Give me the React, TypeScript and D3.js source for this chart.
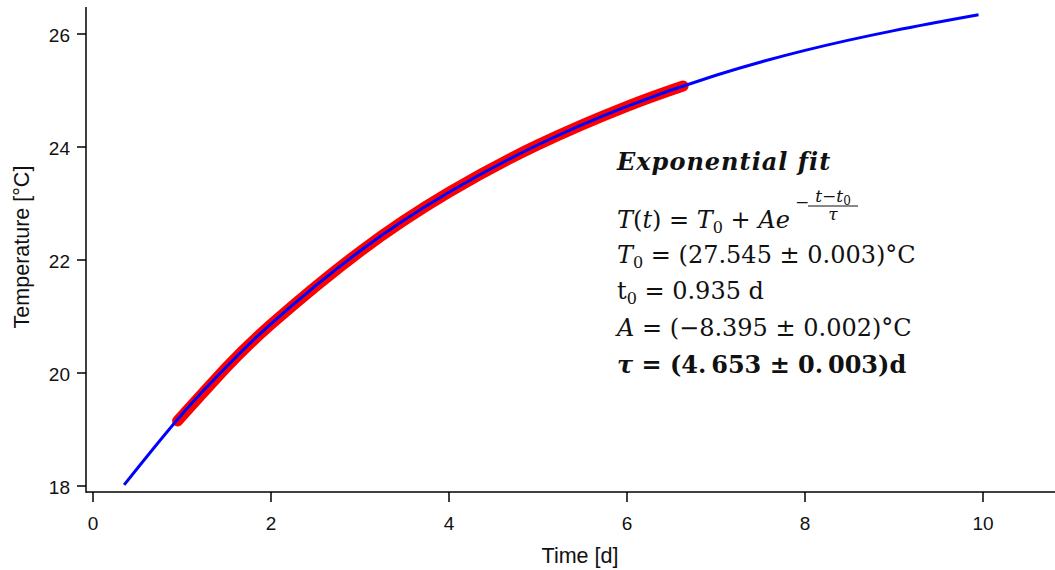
import React from "react";
import * as d3 from "d3";

// Fitted exponential curve (blue)
const fitTime = [0.35, 1, 1.5, 2, 3, 4, 5, 6, 7, 8, 9, 9.95];
const fitTemp = [18.02, 19.27, 20.11, 20.87, 22.16, 23.2, 24.04, 24.72, 25.27, 25.71, 26.06, 26.34];

// Measured data (red, thick)
const dataTime = [0.95, 1.5, 2, 3, 4, 5, 6, 6.63];
const dataTemp = [19.15, 20.1, 20.86, 22.15, 23.2, 24.04, 24.72, 25.08];

const xTicks = [0, 2, 4, 6, 8, 10];
const yTicks = [18, 20, 22, 24, 26];

const W = 1055;
const H = 570;

export default function App() {
  const x = d3.scaleLinear().domain([0, 10]).range([93, 983]);
  const y = d3.scaleLinear().domain([18, 26]).range([486, 34]);
  const xLeft = 86;
  const yBottom = 492;
  const yTop = 7;

  const line = d3
    .line<[number, number]>()
    .x((d) => x(d[0]))
    .y((d) => y(d[1]))
    .curve(d3.curveNatural);

  const fitPts = fitTime.map((t, i) => [t, fitTemp[i]] as [number, number]);
  const dataPts = dataTime.map((t, i) => [t, dataTemp[i]] as [number, number]);

  const axisFont = "'Liberation Sans', Arial, sans-serif";
  const mathFont = "'DejaVu Serif', serif";
  const fs = 24;
  const sub = 16;
  const tx = 617;

  return (
    <svg
      width={W}
      height={H}
      style={{ position: "absolute", left: 0, top: 0, background: "#fff" }}
    >
      <rect x={0} y={0} width={W} height={H} fill="#fff" />
      {/* data */}
      <path
        d={line(dataPts) || ""}
        fill="none"
        stroke="#ff0000"
        strokeWidth={11}
        strokeLinecap="round"
      />
      <path d={line(fitPts) || ""} fill="none" stroke="#0000ff" strokeWidth={3} />

      {/* axes */}
      <line x1={xLeft} x2={xLeft} y1={yTop} y2={yBottom + 0.75} stroke="#000" strokeWidth={1.5} />
      <line x1={xLeft} x2={W} y1={yBottom} y2={yBottom} stroke="#000" strokeWidth={1.5} />
      {xTicks.map((t) => (
        <g key={"x" + t}>
          <line x1={x(t)} x2={x(t)} y1={yBottom} y2={yBottom + 10} stroke="#000" strokeWidth={1.5} />
          <text
            x={x(t)}
            y={530}
            textAnchor="middle"
            fontFamily={axisFont}
            fontSize={19}
            fill="#111"
          >
            {t}
          </text>
        </g>
      ))}
      {yTicks.map((t) => (
        <g key={"y" + t}>
          <line x1={xLeft - 9} x2={xLeft} y1={y(t)} y2={y(t)} stroke="#000" strokeWidth={1.5} />
          <text
            x={70}
            y={y(t) + 7.5}
            textAnchor="end"
            fontFamily={axisFont}
            fontSize={19}
            fill="#111"
          >
            {t}
          </text>
        </g>
      ))}
      <text
        x={580}
        y={563}
        textAnchor="middle"
        fontFamily={axisFont}
        fontSize={21.5}
        fill="#111"
      >
        Time [d]
      </text>
      <text
        transform={`translate(29,247) rotate(-90)`}
        textAnchor="middle"
        fontFamily={axisFont}
        fontSize={21.5}
        fill="#111"
      >
        Temperature [°C]
      </text>

      {/* annotation */}
      <g fontFamily={mathFont} fontSize={fs} fill="#111">
        <text x={tx} y={170} fontWeight="bold" fontStyle="italic" letterSpacing={1}>
          Exponential fit
        </text>
        <text x={tx} y={228}>
          <tspan fontStyle="italic">T</tspan>(<tspan fontStyle="italic">t</tspan>) = <tspan fontStyle="italic">T</tspan>
          <tspan fontSize={sub} dy={5}>0</tspan>
          <tspan dy={-5}> + </tspan>
          <tspan fontStyle="italic">Ae</tspan>
        </text>
        <text x={795} y={208} fontSize={17}>−</text>
        <text x={833} y={202} fontSize={17} textAnchor="middle">
          <tspan fontStyle="italic">t</tspan>−<tspan fontStyle="italic">t</tspan>
          <tspan fontSize={12} dy={3}>0</tspan>
        </text>
        <line x1={808} x2={858} y1={206} y2={206} stroke="#111" strokeWidth={1} />
        <text x={833} y={220} fontSize={17} fontStyle="italic" textAnchor="middle">τ</text>
        <text x={tx} y={263}>
          <tspan fontStyle="italic">T</tspan>
          <tspan fontSize={sub} dy={5}>0</tspan>
          <tspan dy={-5}> = (27.545 ± 0.003)°C</tspan>
        </text>
        <text x={tx} y={299}>
          t<tspan fontSize={sub} dy={5}>0</tspan>
          <tspan dy={-5}> = 0.935 d</tspan>
        </text>
        <text x={tx} y={336}>
          <tspan fontStyle="italic">A</tspan> = (−8.395 ± 0.002)°C
        </text>
        <text x={tx} y={373} fontWeight="bold">
          <tspan fontStyle="italic">τ</tspan> = (4.{"\u2009"}653 ± 0.{"\u2009"}003)d
        </text>
      </g>
    </svg>
  );
}
